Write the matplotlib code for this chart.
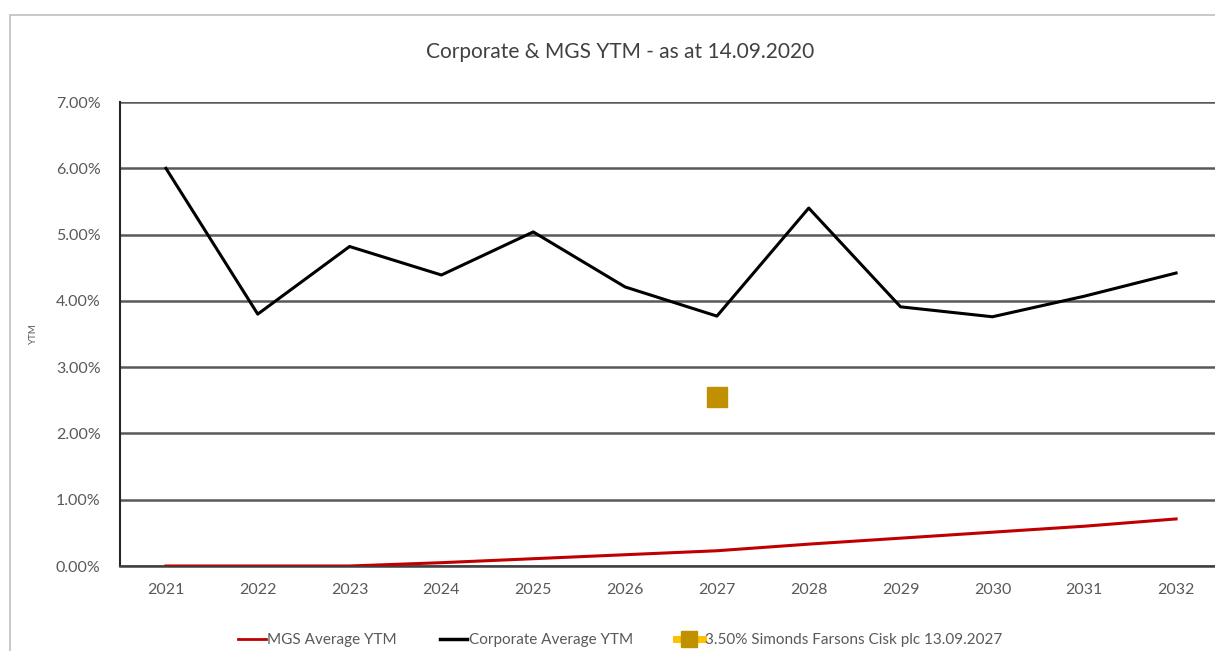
import matplotlib
matplotlib.use("Agg")
import matplotlib.pyplot as plt
from matplotlib.lines import Line2D
from matplotlib.ticker import FuncFormatter, MultipleLocator
from matplotlib.patches import Rectangle

years = ["2021", "2022", "2023", "2024", "2025", "2026", "2027", "2028", "2029", "2030", "2031", "2032"]
corporate_ytm = [6.00, 3.80, 4.82, 4.39, 5.04, 4.21, 3.77, 5.40, 3.91, 3.76, 4.07, 4.42]
mgs_ytm = [0.00, 0.00, 0.00, 0.05, 0.11, 0.17, 0.23, 0.33, 0.42, 0.51, 0.60, 0.71]
bond_year = "2027"
bond_ytm = 2.55

plt.rcParams['font.family'] = ['Lato', 'DejaVu Sans']

fig = plt.figure(figsize=(12.15, 6.51), dpi=100)
W, H = 1215, 651
# outer frame
fig.add_artist(Rectangle((10 / W, -0.1), 1.2, (H - 15) / H + 0.1, transform=fig.transFigure,
                         fill=False, edgecolor="#BFBFBF", linewidth=1.2))

left, right, top, bottom = 120, 1222, 102, 566
ax = fig.add_axes([left / W, 1 - bottom / H, (right - left) / W, (bottom - top) / H])

x = list(range(len(years)))
ax.plot(x, mgs_ytm, color="#C00000", linewidth=2.2, zorder=3)
ax.plot(x, corporate_ytm, color="#000000", linewidth=2.2, zorder=3)
bx = years.index(bond_year)
ax.plot([bx], [bond_ytm], marker="s", markersize=15, color="#C09000",
        markeredgecolor="#C09000", linestyle="none", zorder=4)

ax.set_xlim(-0.5, len(years) - 0.5)
ax.set_ylim(0, 7)
ax.yaxis.set_major_locator(MultipleLocator(1))
ax.yaxis.set_major_formatter(FuncFormatter(lambda v, p: f"{v:.2f}%"))
ax.set_xticks(x)
ax.set_xticklabels(years)
ax.grid(axis="y", color="#595959", linewidth=1.8)
ax.set_axisbelow(True)
for s in ["top", "right"]:
    ax.spines[s].set_visible(False)
ax.spines["left"].set_color("#262626")
ax.spines["left"].set_linewidth(1.5)
ax.spines["bottom"].set_color("#404040")
ax.spines["bottom"].set_linewidth(1.8)
ax.tick_params(axis="both", length=0, labelsize=11.5, colors="#595959", pad=12)
ax.tick_params(axis="y", pad=14)

fig.text(33 / W, 1 - 334 / H, "YTM", rotation=90, fontsize=7, color="#595959",
         ha="center", va="center")
fig.text(620 / W, 1 - 52 / H, "Corporate & MGS YTM - as at 14.09.2020", fontsize=15,
         color="#404040", ha="center", va="center")

handles = [
    Line2D([], [], color="#C00000", linewidth=2),
    Line2D([], [], color="#000000", linewidth=2.5),
    Line2D([], [], color="#FFC000", linewidth=5, marker="s", markersize=12,
           markerfacecolor="#C09000", markeredgecolor="#C09000"),
]
labels = ["MGS Average YTM", "Corporate Average YTM", "3.50% Simonds Farsons Cisk plc 13.09.2027"]
leg = fig.legend(handles, labels, loc="center", bbox_to_anchor=(620 / W, 1 - 640 / H), ncol=3,
                 frameon=False, fontsize=11, handlelength=1.8, handletextpad=0.1,
                 columnspacing=2.8)
for t in leg.get_texts():
    t.set_color("#595959")

fig.savefig("out.png", dpi=100)
